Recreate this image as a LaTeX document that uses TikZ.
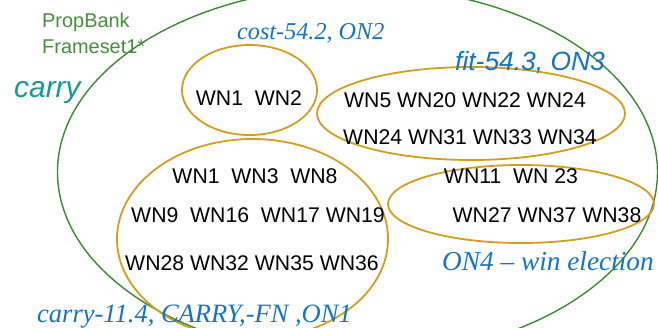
\documentclass[tikz,border=0pt]{standalone}
\usepackage{fontspec}
\setmainfont{Liberation Sans}
\newfontfamily\tnr{Liberation Serif}
\usetikzlibrary{shapes.geometric}
\definecolor{goldline}{RGB}{210,158,28}
\definecolor{greenline}{RGB}{62,135,52}
\definecolor{greentext}{RGB}{72,140,62}
\definecolor{tealtext}{RGB}{22,152,150}
\definecolor{bluetext}{RGB}{20,115,198}
\tikzset{
  ell/.style={ellipse, inner sep=0pt, line width=1.8bp},
  goldell/.style={ell, draw=goldline},
  wn/.style={anchor=base, inner sep=0pt, font=\fontsize{21.3}{25}\selectfont},
  lbl/.style={anchor=base west, inner sep=0pt},
}
\begin{document}
\begin{tikzpicture}[x=1bp,y=-1bp]
\useasboundingbox (0,0) rectangle (658,327);
\clip (0,0) rectangle (658,327);
% big green ellipse
\node[ell, draw=greenline, line width=1.4bp, minimum width=600bp, minimum height=371bp] (pb) at (357.5,172) {};
% gold ellipses
\node[goldell, minimum width=135bp, minimum height=90bp] (e1) at (249.5,90) {};
\node[goldell, minimum width=308bp, minimum height=93bp] (e2) at (471,113.5) {};
\node[goldell, minimum width=271bp, minimum height=200bp] (e3) at (252.5,239) {};
\node[goldell, minimum width=266bp, minimum height=78bp] (e4) at (521,204) {};
% labels
\node[lbl, text=greentext, font=\fontsize{20}{24}\selectfont] (pb1) at (42,27) {PropBank};
\node[lbl, text=greentext, font=\fontsize{20}{24}\selectfont] (pb2) at (42,53) {Frameset1*};
\node[lbl, text=tealtext, font=\fontsize{30}{34}\selectfont\itshape] (carry) at (14,97) {carry};
\node[lbl, text=bluetext, font=\tnr\fontsize{24.3}{28}\selectfont\itshape] (cost) at (237,39) {cost-54.2, ON2};
\node[lbl, text=bluetext, font=\fontsize{26.5}{30}\selectfont\itshape] (fit) at (455,70) {fit-54.3, ON3};
\node[lbl, text=bluetext, font=\tnr\fontsize{27.4}{31}\selectfont\itshape] (win) at (442,270) {ON4 \textendash{} win election};
\node[lbl, text=bluetext, font=\tnr\fontsize{26.6}{30}\selectfont\itshape] (carryfn) at (37,322) {carry-11.4, CARRY,-FN ,ON1};
% WN texts
\node[wn] (t1) at (249,105) {WN1\ \ WN2};
\node[wn] (t2) at (465,107) {WN5 WN20 WN22 WN24};
\node[wn] (t3) at (470,144) {WN24 WN31 WN33 WN34};
\node[wn] (t4) at (255,183) {WN1\ \ WN3\ \ WN8};
\node[wn] (t5) at (258,222) {WN9\ \ WN16\ \ WN17 WN19};
\node[wn] (t6) at (252,270) {WN28 WN32 WN35 WN36};
\node[wn] (t7) at (511,183) {WN11\ \ WN 23};
\node[wn] (t8) at (547,222) {WN27 WN37 WN38};
\end{tikzpicture}
\end{document}
